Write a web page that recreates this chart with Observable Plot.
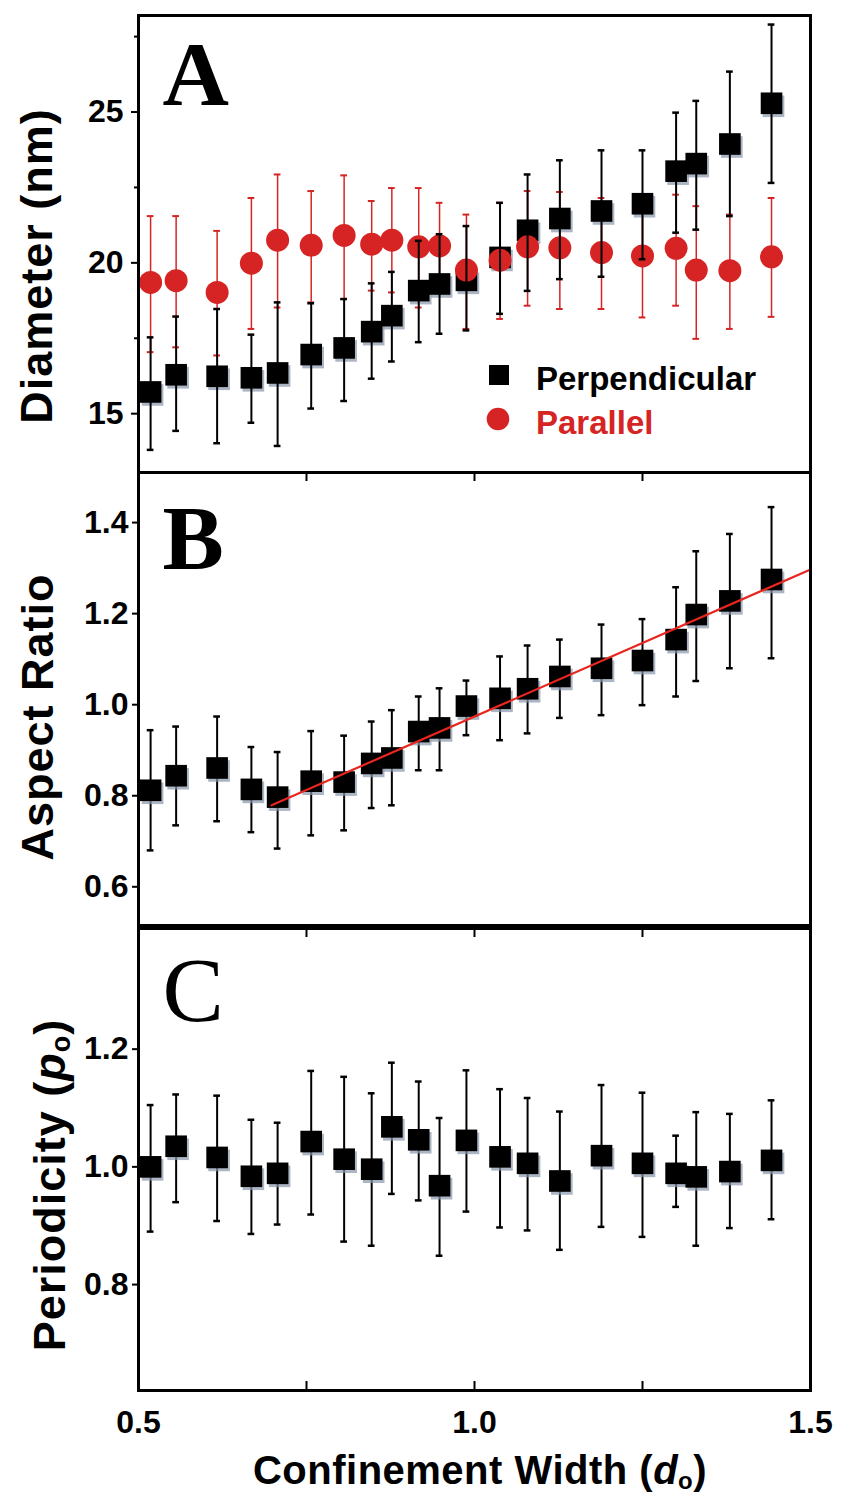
<!DOCTYPE html>
<html>
<head>
<meta charset="utf-8">
<script src="https://cdn.jsdelivr.net/npm/d3@7"></script>
<script src="https://cdn.jsdelivr.net/npm/@observablehq/plot@0.6"></script>
<style>
  html, body { margin: 0; padding: 0; background: #fff; }
  #wrap { position: relative; width: 843px; height: 1498px; overflow: hidden; background: #fff;
          font-family: "Liberation Sans", Arial, sans-serif; font-weight: bold; }
  #wrap svg { position: absolute; left: 0; overflow: visible; }
  .ytitle { position: absolute; white-space: nowrap; font-size: 45px; letter-spacing: 1px;
            transform: translate(-50%, -50%) rotate(-90deg); line-height: 1.2; }
  .xtitle { position: absolute; white-space: nowrap; font-size: 40px; letter-spacing: 0.5px;
            transform: translateX(-50%); line-height: 1.1; }
  sub { font-size: 0.6em; vertical-align: -0.2em; line-height: 0; }
  .legend { position: absolute; font-size: 33px; line-height: 1; white-space: nowrap; }
</style>
</head>
<body>
<div id="wrap"></div>
<script>
// ---------- data ----------
const confinementWidth = [0.518, 0.556, 0.617, 0.668, 0.707, 0.757, 0.806, 0.847, 0.877, 0.917, 0.948,
                          0.988, 1.038, 1.079, 1.127, 1.189, 1.250, 1.300, 1.330, 1.380, 1.442];

// Panel A: diameter (nm)
const diamPerp   = [15.72, 16.29, 16.24, 16.19, 16.35, 16.96, 17.18, 17.72, 18.25, 19.08, 19.30,
                    19.42, 20.18, 21.08, 21.47, 21.72, 21.96, 23.04, 23.29, 23.94, 25.29];
const diamPerpHi = [17.53, 18.22, 18.47, 17.62, 18.69, 18.66, 18.80, 19.32, 19.70, 20.73, 20.95,
                    21.22, 21.99, 22.93, 23.40, 23.73, 23.73, 24.98, 25.37, 26.34, 27.90];
const diamPerpLo = [13.80, 14.43, 14.02, 14.70, 13.93, 15.17, 15.42, 16.16, 16.73, 17.37, 17.65,
                    17.76, 18.31, 19.07, 19.46, 19.54, 20.12, 21.00, 21.10, 21.55, 22.65];
const diamPar    = [19.35, 19.41, 19.02, 19.99, 20.75, 20.58, 20.91, 20.62, 20.75, 20.53, 20.56,
                    19.76, 20.09, 20.53, 20.50, 20.34, 20.23, 20.48, 19.76, 19.74, 20.20];
const diamParHi  = [21.55, 21.55, 21.06, 22.15, 22.93, 22.38, 22.90, 22.05, 22.48, 22.48, 21.99,
                    21.60, 21.99, 22.38, 22.35, 22.15, 21.70, 22.26, 21.88, 21.60, 22.15];
const diamParLo  = [17.04, 17.20, 16.93, 17.81, 18.52, 18.69, 18.80, 19.08, 19.02, 18.52, 19.13,
                    17.81, 18.14, 18.58, 18.47, 18.47, 18.19, 18.58, 17.48, 17.81, 18.21];

// Panel B: aspect ratio
const aspect   = [0.812, 0.844, 0.861, 0.814, 0.797, 0.832, 0.830, 0.871, 0.883, 0.941, 0.949,
                  0.997, 1.014, 1.035, 1.062, 1.080, 1.097, 1.143, 1.198, 1.228, 1.275];
const aspectHi = [0.944, 0.952, 0.974, 0.907, 0.896, 0.942, 0.932, 0.963, 0.988, 1.018, 1.036,
                  1.053, 1.106, 1.130, 1.143, 1.176, 1.188, 1.258, 1.337, 1.375, 1.434];
const aspectLo = [0.680, 0.735, 0.744, 0.720, 0.684, 0.713, 0.724, 0.773, 0.779, 0.856, 0.856,
                  0.933, 0.922, 0.937, 0.971, 0.977, 0.999, 1.018, 1.052, 1.080, 1.102];
const fitX = [0.698, 1.5];
const fitY = [0.779, 1.297];

// Panel C: periodicity
const period   = [1.000, 1.035, 1.016, 0.984, 0.989, 1.043, 1.013, 0.996, 1.068, 1.046, 0.968,
                  1.045, 1.017, 1.006, 0.976, 1.019, 1.006, 0.989, 0.983, 0.992, 1.011];
const periodHi = [1.105, 1.123, 1.121, 1.080, 1.075, 1.163, 1.153, 1.125, 1.177, 1.145, 1.083,
                  1.164, 1.132, 1.117, 1.094, 1.139, 1.126, 1.053, 1.093, 1.090, 1.113];
const periodLo = [0.890, 0.940, 0.908, 0.886, 0.902, 0.919, 0.873, 0.866, 0.954, 0.943, 0.849,
                  0.924, 0.897, 0.892, 0.859, 0.898, 0.881, 0.932, 0.866, 0.896, 0.911];

// ticks
const xTickLabels = [0.5, 1.0, 1.5];
const xInnerTicks = [0.75, 1.0, 1.25];
const yTicksA = [15, 20, 25];
const yMinorA = [17.5, 22.5, 27.5];
const yTicksB = [0.6, 0.8, 1.0, 1.2, 1.4];
const yTicksC = [0.8, 1.0, 1.2];
const seriesNames = ["Perpendicular", "Parallel"];
const panelLetters = ["A", "B", "C"];

// ---------- helpers ----------
const RED = "#d62424";
const SHADOW = "#8796aa";
const TICKFONT = 32;
const rows = (ys, lo, hi) => confinementWidth.map((x, i) => ({x, y: ys[i], lo: lo[i], hi: hi[i]}));
const CAP = 0.005;
const errBars = (data, color, w) => [
  Plot.ruleX(data, {x: "x", y1: "lo", y2: "hi", stroke: color, strokeWidth: w}),
  Plot.ruleY(data, {y: "hi", x1: d => d.x - CAP, x2: d => d.x + CAP, stroke: color, strokeWidth: w + 0.5}),
  Plot.ruleY(data, {y: "lo", x1: d => d.x - CAP, x2: d => d.x + CAP, stroke: color, strokeWidth: w + 0.5})
];
const squares = (data) => [
  Plot.dot(data, {x: "x", y: "y", symbol: "square", r: 12.2, fill: SHADOW, fillOpacity: 0.7, dx: 2, dy: 3}),
  Plot.dot(data, {x: "x", y: "y", symbol: "square", r: 12.2, fill: "black"})
];
const style = {fontFamily: "'Liberation Sans', Arial, sans-serif", fontSize: TICKFONT + "px", fontWeight: "bold",
               color: "black", background: "transparent", overflow: "visible"};
const letter = (t, dy, bold) => Plot.text([t], {frameAnchor: "top-left", dx: 24, dy, text: d => d,
  fontSize: 92, fontFamily: "'Liberation Serif', 'Times New Roman', serif", fontWeight: bold ? "bold" : "normal",
  textAnchor: "start", lineAnchor: "top", fill: "black"});

const W = 843, ML = 138, MR = 33;
const wrap = document.getElementById("wrap");
function place(svg, top) { svg.style.top = top + "px"; wrap.appendChild(svg); }

// ---------- Panel A ----------
const dataPerp = rows(diamPerp, diamPerpLo, diamPerpHi);
const dataPar = rows(diamPar, diamParLo, diamParHi);
const hA = 474, mtA = 15, mbA = 2;
const plotA = Plot.plot({
  width: W, height: hA, marginLeft: ML, marginRight: MR, marginTop: mtA, marginBottom: mbA,
  x: {domain: [0.5, 1.5], axis: null},
  y: {domain: [13.05, 28.2]},
  style,
  marks: [
    Plot.axisY(yTicksA, {tickSize: 7, tickPadding: 8, fontSize: TICKFONT, tickFormat: d3.format("d"), label: null, strokeWidth: 2}),
    Plot.axisY(yMinorA, {tickSize: 4, tickFormat: () => "", label: null, strokeWidth: 2}),
    ...errBars(dataPar, RED, 1.5),
    ...squares(dataPerp),
    Plot.dot(dataPar, {x: "x", y: "y", r: 11.5, fill: RED}),
    ...errBars(dataPerp, "black", 2),
    letter(panelLetters[0], 24, true),
    Plot.frame({stroke: "black", strokeWidth: 3})
  ]
});
place(plotA, 0);

// ---------- Panel B ----------
const dataB = rows(aspect, aspectLo, aspectHi);
const hB = 457, mtB = 2, mbB = 2;
const plotB = Plot.plot({
  width: W, height: hB, marginLeft: ML, marginRight: MR, marginTop: mtB, marginBottom: mbB,
  x: {domain: [0.5, 1.5], axis: null},
  y: {domain: [0.515, 1.51]},
  style,
  marks: [
    Plot.axisY(yTicksB, {tickSize: 6, tickPadding: 4, fontSize: TICKFONT, tickFormat: d3.format(".1f"), label: null, strokeWidth: 2}),
    Plot.ruleX(xInnerTicks, {insetBottom: hB - mtB - mbB - 9, stroke: "black", strokeWidth: 2}),
    ...errBars(dataB, "black", 2),
    ...squares(dataB),
    Plot.line(fitX.map((x, i) => ({x, y: fitY[i]})), {x: "x", y: "y", stroke: "#e8261e", strokeWidth: 2.2}),
    letter(panelLetters[1], 31, true),
    Plot.frame({stroke: "black", strokeWidth: 3})
  ]
});
place(plotB, 470);

// ---------- Panel C ----------
const dataC = rows(period, periodLo, periodHi);
const hC = 572, mtC = 2, mbC = 108;
const plotC = Plot.plot({
  width: W, height: hC, marginLeft: ML, marginRight: MR, marginTop: mtC, marginBottom: mbC,
  x: {domain: [0.5, 1.5]},
  y: {domain: [0.62, 1.405]},
  style,
  marks: [
    Plot.axisY(yTicksC, {tickSize: 6, tickPadding: 4, fontSize: TICKFONT, tickFormat: d3.format(".1f"), label: null, strokeWidth: 2}),
    Plot.axisX(xTickLabels, {tickSize: 0, tickPadding: 20, fontSize: TICKFONT, tickFormat: d3.format(".1f"), label: null}),
    Plot.ruleX(xInnerTicks, {insetBottom: hC - mtC - mbC - 9, stroke: "black", strokeWidth: 2}),
    Plot.ruleX(xInnerTicks, {insetTop: hC - mtC - mbC - 9, stroke: "black", strokeWidth: 2}),
    ...errBars(dataC, "black", 2),
    ...squares(dataC),
    letter(panelLetters[2], 27, false),
    Plot.frame({stroke: "black", strokeWidth: 3})
  ]
});
place(plotC, 926);

// ---------- titles & legend (HTML text) ----------
function addDiv(cls, html, css) {
  const d = document.createElement("div");
  d.className = cls; d.innerHTML = html;
  Object.assign(d.style, css);
  wrap.appendChild(d);
  return d;
}
addDiv("ytitle", "Diameter (nm)", {left: "37px", top: "266px"});
addDiv("ytitle", "Aspect Ratio", {left: "38px", top: "717px"});
addDiv("ytitle", "Periodicity (<i>p</i><sub>o</sub>)", {left: "50px", top: "1185px"});
addDiv("xtitle", "Confinement Width (<i>d</i><sub>o</sub>)", {left: "480px", top: "1448px"});

addDiv("legend", `<svg width="22" height="22" style="position:absolute;left:-48px;top:2px"><rect x="1" y="1" width="20" height="20" fill="black"/></svg>${seriesNames[0]}`,
       {left: "536px", top: "362px", color: "black"});
addDiv("legend", `<svg width="24" height="24" style="position:absolute;left:-50px;top:1px"><circle cx="12" cy="12" r="11.3" fill="${RED}"/></svg>${seriesNames[1]}`,
       {left: "536px", top: "406px", color: RED});
</script>
</body>
</html>
